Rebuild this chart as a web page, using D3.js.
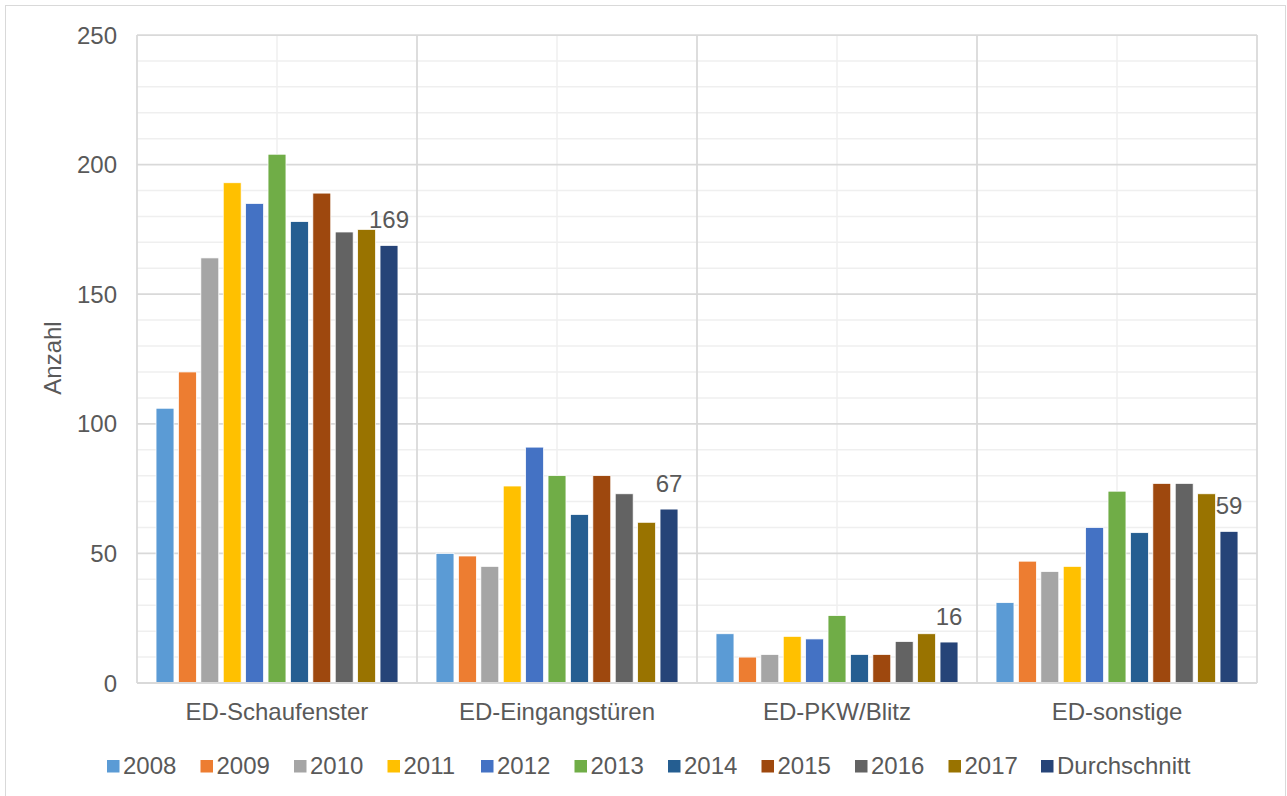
<!DOCTYPE html>
<html>
<head>
<meta charset="utf-8">
<script src="https://cdn.jsdelivr.net/npm/d3@7"></script>
<style>
    body { margin: 0; background: #ffffff; }
    svg text { font-family: "Liberation Sans", Arial, sans-serif; fill: #595959; }
</style>
</head>
<body>
<svg id="chart" width="1287" height="796"></svg>
<script>
// categories on the x axis
var categories = ["ED-Schaufenster", "ED-Eingangstüren", "ED-PKW/Blitz", "ED-sonstige"];

// one series per year plus the average
var seriesNames = ["2008", "2009", "2010", "2011", "2012", "2013", "2014", "2015", "2016", "2017", "Durchschnitt"];

var values2008 = [106, 50, 19, 31];
var values2009 = [120, 49, 10, 47];
var values2010 = [164, 45, 11, 43];
var values2011 = [193, 76, 18, 45];
var values2012 = [185, 91, 17, 60];
var values2013 = [204, 80, 26, 74];
var values2014 = [178, 65, 11, 58];
var values2015 = [189, 80, 11, 77];
var values2016 = [174, 73, 16, 77];
var values2017 = [175, 62, 19, 73];
var valuesAvg = [168.8, 67.1, 15.8, 58.5];

var yTicks = [0, 50, 100, 150, 200, 250];

var colors = ["#5B9BD5", "#ED7D31", "#A5A5A5", "#FFC000", "#4472C4", "#70AD47",
    "#255E91", "#9E480E", "#636363", "#997300", "#264478"];

var allValues = [values2008, values2009, values2010, values2011, values2012, values2013,
    values2014, values2015, values2016, values2017, valuesAvg];

// note: "top" is taken by window.top, so plot edges get their own names
var plotLeft = 137,
    plotRight = 1257,
    plotTop = 35,
    plotBottom = 683;

var svg = d3.select("#chart");

// outer chart frame
svg.append("rect")
    .attr("x", 5.5)
    .attr("y", 5.5)
    .attr("width", 1280)
    .attr("height", 800)
    .style("fill", "white")
    .style("stroke", "#d9d9d9")
    .style("stroke-width", 1);

var x0 = d3.scaleBand().domain(categories).range([plotLeft, plotRight]).padding(0);

var x1 = d3
    .scaleBand()
    .domain(seriesNames)
    .range([0, x0.bandwidth()])
    .paddingInner(0.2)
    .paddingOuter(0.85);

var y = d3.scaleLinear().domain([0, 250]).range([plotBottom, plotTop]);

var color = d3.scaleOrdinal().domain(seriesNames).range(colors);

// minor gridlines every 10
var minor = d3.range(10, 251, 10).filter((v) => v % 50 != 0);

svg.append("g")
    .selectAll("line")
    .data(minor)
    .enter()
    .append("line")
    .attr("x1", plotLeft)
    .attr("x2", plotRight)
    .attr("y1", (d) => y(d))
    .attr("y2", (d) => y(d))
    .style("stroke", "#efefef")
    .style("stroke-width", 1.5);

// minor vertical lines at category centres
svg.append("g")
    .selectAll("line")
    .data(categories)
    .enter()
    .append("line")
    .attr("x1", (d) => x0(d) + x0.bandwidth() / 2)
    .attr("x2", (d) => x0(d) + x0.bandwidth() / 2)
    .attr("y1", plotTop)
    .attr("y2", plotBottom)
    .style("stroke", "#efefef")
    .style("stroke-width", 1.5);

// major gridlines
svg.append("g")
    .selectAll("line")
    .data(yTicks.slice(1))
    .enter()
    .append("line")
    .attr("x1", plotLeft)
    .attr("x2", plotRight)
    .attr("y1", (d) => y(d))
    .attr("y2", (d) => y(d))
    .style("stroke", "#d9d9d9")
    .style("stroke-width", 1.75);

// category dividers
svg.append("g")
    .selectAll("line")
    .data(categories.concat(["end"]))
    .enter()
    .append("line")
    .attr("x1", (d) => (d == "end" ? plotRight : x0(d)))
    .attr("x2", (d) => (d == "end" ? plotRight : x0(d)))
    .attr("y1", plotTop)
    .attr("y2", plotBottom)
    .style("stroke", "#d9d9d9")
    .style("stroke-width", 1.75);

// bars
var groups = svg
    .append("g")
    .selectAll("g")
    .data(seriesNames)
    .enter()
    .append("g")
    .style("fill", (d) => color(d));

groups
    .selectAll("rect")
    .data(function (s, i) {
        return categories.map((c, j) => ({ series: s, cat: c, value: allValues[i][j] }));
    })
    .enter()
    .append("rect")
    .attr("x", (d) => x0(d.cat) + x1(d.series))
    .attr("width", x1.bandwidth())
    .attr("y", (d) => y(d.value))
    .attr("height", (d) => y(0) - y(d.value))
    .style("stroke", "white")
    .style("stroke-width", 0.75);

// value labels on the average
svg.append("g")
    .selectAll("text")
    .data(categories.map((c, j) => ({ cat: c, value: valuesAvg[j] })))
    .enter()
    .append("text")
    .attr("x", (d) => x0(d.cat) + x1("Durchschnitt") + x1.bandwidth() / 2)
    .attr("y", (d) => y(d.value) - 17)
    .attr("text-anchor", "middle")
    .style("font-size", "24px")
    .text((d) => Math.round(d.value));

// bottom axis line
svg.append("line")
    .attr("x1", plotLeft)
    .attr("x2", plotRight)
    .attr("y1", plotBottom)
    .attr("y2", plotBottom)
    .style("stroke", "#d9d9d9")
    .style("stroke-width", 2);

// y tick labels
svg.append("g")
    .selectAll("text")
    .data(yTicks)
    .enter()
    .append("text")
    .attr("x", plotLeft - 20)
    .attr("y", (d) => y(d))
    .attr("dy", "0.36em")
    .attr("text-anchor", "end")
    .style("font-size", "24px")
    .text((d) => d);

// category labels
svg.append("g")
    .selectAll("text")
    .data(categories)
    .enter()
    .append("text")
    .attr("x", (d) => x0(d) + x0.bandwidth() / 2)
    .attr("y", 719.5)
    .attr("text-anchor", "middle")
    .style("font-size", "24px")
    .text((d) => d);

// y axis title
svg.append("text")
    .attr("transform", "translate(61,358) rotate(-90)")
    .attr("text-anchor", "middle")
    .style("font-size", "24px")
    .text("Anzahl");

// legend
var legendX = [107, 200.5, 294, 387.5, 481, 574.5, 668, 761.5, 855, 948.5, 1041];

var legend = svg
    .append("g")
    .selectAll("g")
    .data(seriesNames)
    .enter()
    .append("g")
    .attr("transform", (d, i) => "translate(" + legendX[i] + ",760)");

legend
    .append("rect")
    .attr("width", 12.5)
    .attr("height", 12.5)
    .style("fill", (d) => color(d));

legend
    .append("text")
    .attr("x", 16)
    .attr("y", 14)
    .style("font-size", "24px")
    .text((d) => d);
</script>
</body>
</html>
